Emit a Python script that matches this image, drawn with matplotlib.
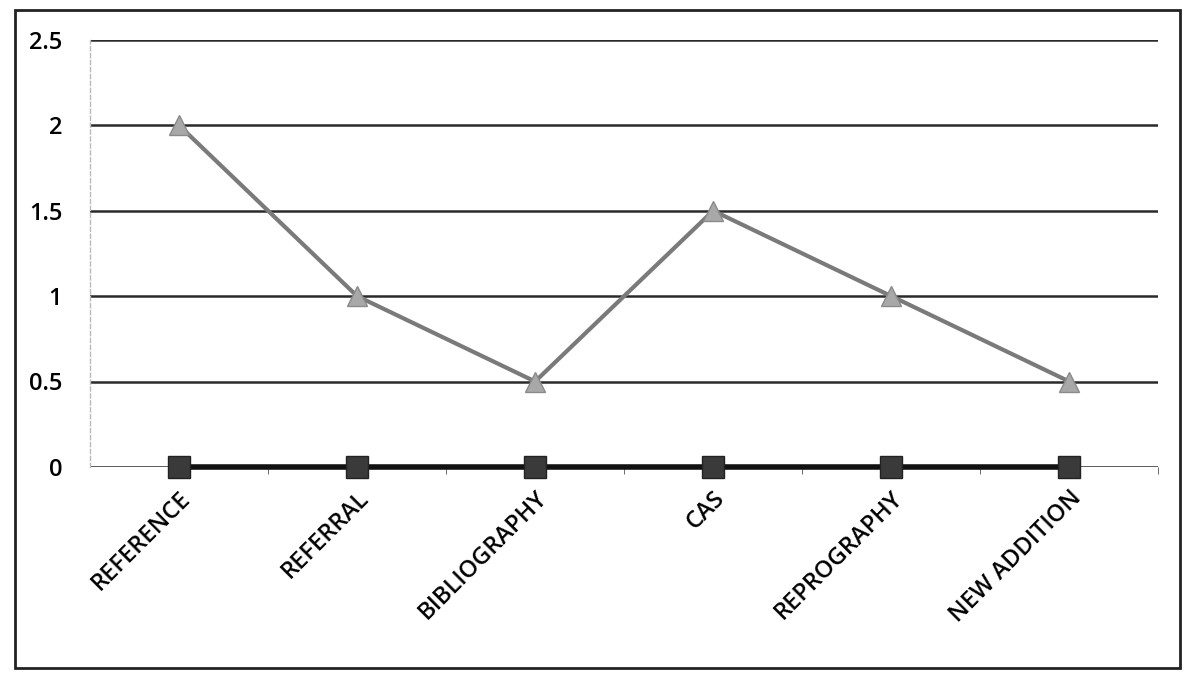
import matplotlib
matplotlib.use("Agg")
import matplotlib.pyplot as plt
from matplotlib.patches import Rectangle

categories = ["REFERENCE", "REFERRAL", "BIBLIOGRAPHY", "CAS", "REPROGRAPHY", "NEW ADDITION"]
series_triangle = [2, 1, 0.5, 1.5, 1, 0.5]
series_square = [0, 0, 0, 0, 0, 0]
y_ticks = [0, 0.5, 1, 1.5, 2, 2.5]

plt.rcParams['font.family'] = ['Open Sans', 'DejaVu Sans']

fig = plt.figure(figsize=(11.87, 7.0), dpi=100)
fig.patches.append(Rectangle((0.013, 0.046), 0.981, 0.94, transform=fig.transFigure,
                             fill=False, edgecolor='#222222', linewidth=2))
ax = fig.add_axes([0.0758, 0.333, 0.90, 0.61])

x = list(range(len(categories)))
ax.plot(x, series_triangle, color='#7a7a7a', linewidth=3, marker='^', markersize=15,
        markerfacecolor='#a8a8a8', markeredgecolor='#8a8a8a', zorder=3)
ax.plot(x, series_square, color='#111111', linewidth=4, marker='s', markersize=16,
        markerfacecolor='#3a3a3a', markeredgecolor='#222222', zorder=4)

ax.set_xlim(-0.5, len(categories) - 0.5)
ax.set_ylim(0, 2.5)
ax.set_yticks(y_ticks)
ax.set_yticklabels(["0", "0.5", "1", "1.5", "2", "2.5"], fontsize=17, fontweight='semibold')
ax.set_xticks(x)
ax.set_xticklabels(categories, rotation=45, ha='right', rotation_mode='anchor',
                   fontsize=17, fontweight='semibold')
ax.set_xticks([i + 0.5 for i in range(len(categories))], minor=True)
ax.tick_params(axis='x', which='major', length=0, pad=14)
ax.tick_params(axis='x', which='minor', length=5, color='#555555')
ax.tick_params(axis='y', length=0, pad=20)

ax.yaxis.grid(True, color='#2a2a2a', linewidth=1.8)
ax.set_axisbelow(True)
for s in ['top', 'right', 'bottom']:
    ax.spines[s].set_visible(False)
ax.spines['left'].set_color('#bbbbbb')
ax.spines['left'].set_linestyle((0, (3, 2)))
ax.spines['left'].set_linewidth(1)
for line in ax.lines:
    line.set_clip_on(False)

fig.savefig("out.png", dpi=100, facecolor='white')
